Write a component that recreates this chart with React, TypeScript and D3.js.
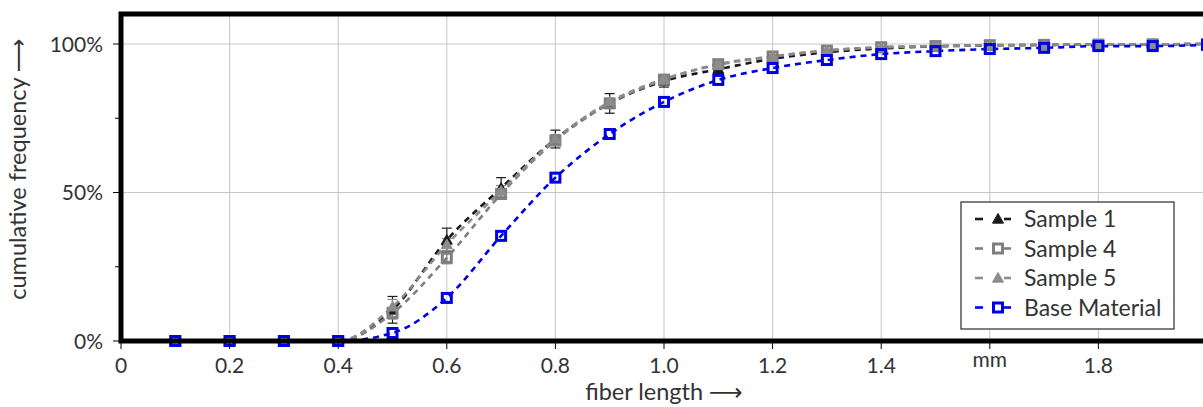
import React from 'react';
import * as d3 from 'd3';

const fiberLength = [0.1, 0.2, 0.3, 0.4, 0.5, 0.6, 0.7, 0.8, 0.9, 1.0, 1.1, 1.2, 1.3, 1.4, 1.5, 1.6, 1.7, 1.8, 1.9, 2.0];

const sample1 = [0, 0, 0, 0, 0.105, 0.34, 0.515, 0.68, 0.80, 0.875, 0.915, 0.95, 0.972, 0.985, 0.992, 0.995, 0.997, 0.998, 0.999, 1.0];
const sample1Err = [0, 0, 0, 0, 0.045, 0.04, 0.035, 0.03, 0.033, 0.02, 0.015, 0.01, 0.006, 0.004, 0.003, 0.002, 0.002, 0.001, 0.001, 0.001];

const sample4 = [0, 0, 0, 0, 0.094, 0.28, 0.495, 0.675, 0.80, 0.88, 0.932, 0.958, 0.978, 0.989, 0.993, 0.996, 0.997, 0.998, 0.999, 1.0];
const sample4Err = [0, 0, 0, 0, 0.02, 0.02, 0.015, 0.015, 0.012, 0.01, 0.008, 0.006, 0.004, 0.003, 0.002, 0.002, 0.001, 0.001, 0.001, 0.001];

const sample5 = [0, 0, 0, 0, 0.115, 0.325, 0.505, 0.68, 0.805, 0.882, 0.93, 0.958, 0.978, 0.989, 0.993, 0.996, 0.997, 0.998, 0.999, 1.0];
const sample5Err = [0, 0, 0, 0, 0.025, 0.02, 0.018, 0.015, 0.012, 0.01, 0.008, 0.006, 0.004, 0.003, 0.002, 0.002, 0.001, 0.001, 0.001, 0.001];

const baseMaterial = [0, 0, 0, 0, 0.027, 0.145, 0.354, 0.55, 0.697, 0.805, 0.879, 0.919, 0.946, 0.966, 0.976, 0.983, 0.987, 0.993, 0.993, 0.997];

// 1.6 is labelled with the unit instead of a number; 2.0 falls off the right edge
const xTicks = [0, 0.2, 0.4, 0.6, 0.8, 1.0, 1.2, 1.4, 1.6, 1.8, 2.0];
const xTickLabels = ['0', '0.2', '0.4', '0.6', '0.8', '1.0', '1.2', '1.4', 'mm', '1.8', ''];
const yTicks = [0, 0.5, 1.0];
const yMinorTicks = [0.25, 0.75];

type Series = {
  name: string;
  values: number[];
  errors: number[] | null;
  color: string;
  marker: 'triangle' | 'square';
};

const series: Series[] = [
  { name: 'Sample 1', values: sample1, errors: sample1Err, color: '#1a1a1a', marker: 'triangle' },
  { name: 'Sample 4', values: sample4, errors: sample4Err, color: '#7f7f7f', marker: 'square' },
  { name: 'Sample 5', values: sample5, errors: sample5Err, color: '#8c8c8c', marker: 'triangle' },
  { name: 'Base Material', values: baseMaterial, errors: null, color: '#0000e6', marker: 'square' },
];

const W = 1203;
const H = 407;
const font = 'Lato, "DejaVu Sans", sans-serif';
const textColor = '#333';

const Marker = ({ x, y, s }: { x: number; y: number; s: Series }) => {
  if (s.marker === 'triangle') {
    const r = 5.5;
    return (
      <path
        d={`M${x},${y - r}L${x + r},${y + r * 0.75}L${x - r},${y + r * 0.75}Z`}
        fill={s.color}
        stroke={s.color}
        strokeWidth={1}
      />
    );
  }
  return (
    <rect x={x - 4.5} y={y - 4.5} width={9} height={9} fill="none" stroke={s.color} strokeWidth={3} />
  );
};

const App = () => {
  const x = d3.scaleLinear().domain([0, 2]).range([121, 1207]);
  const y = d3.scaleLinear().domain([0, 1]).range([341, 44]);
  const plotTop = 14;
  const plotBottom = 341;

  const line = d3
    .line<number>()
    .x((_, i) => x(fiberLength[i]))
    .y((d) => y(d))
    .curve(d3.curveMonotoneX);

  const legendX = 961;
  const legendY = 202;
  const rowH = 29.5;

  return (
    <svg
      width={W}
      height={H}
      style={{ position: 'absolute', left: 0, top: 0, background: '#fff' }}
      fontFamily={font}
    >
      {/* grid */}
      <g stroke="#c6c6c6" strokeWidth={1}>
        {xTicks.filter((t) => t > 0).map((t) => (
          <line key={t} x1={x(t)} x2={x(t)} y1={plotTop} y2={plotBottom} />
        ))}
        {yTicks.filter((t) => t > 0).map((t) => (
          <line key={t} x1={x(0)} x2={W} y1={y(t)} y2={y(t)} />
        ))}
      </g>

      {/* lines */}
      {series.map((s) => (
        <path
          key={s.name}
          d={line(s.values) || ''}
          fill="none"
          stroke={s.color}
          strokeWidth={2.6}
          strokeDasharray="6,5"
        />
      ))}

      {/* error bars */}
      {series.map((s) =>
        s.errors ? (
          <g key={s.name} stroke={s.color} strokeWidth={1.2}>
            {s.values.map((v, i) => {
              const e = s.errors![i];
              if (e <= 0) return null;
              const cx = x(fiberLength[i]);
              return (
                <g key={i}>
                  <line x1={cx} x2={cx} y1={y(v + e)} y2={y(v - e)} />
                  <line x1={cx - 5} x2={cx + 5} y1={y(v + e)} y2={y(v + e)} />
                  <line x1={cx - 5} x2={cx + 5} y1={y(v - e)} y2={y(v - e)} />
                </g>
              );
            })}
          </g>
        ) : null
      )}

      {/* markers */}
      {series.map((s) => (
        <g key={s.name}>
          {s.values.map((v, i) => (
            <Marker key={i} x={x(fiberLength[i])} y={y(v)} s={s} />
          ))}
        </g>
      ))}

      {/* frame */}
      <path
        d={`M${W + 10},${plotTop} L${x(0)},${plotTop} L${x(0)},${plotBottom} L${W + 10},${plotBottom}`}
        fill="none"
        stroke="#000"
        strokeWidth={5}
      />

      {/* x ticks */}
      <g>
        {xTicks.map((t, i) => (
          <g key={t}>
            <line x1={x(t)} x2={x(t)} y1={plotBottom} y2={plotBottom + 8} stroke="#000" strokeWidth={1} />
            <text
              x={x(t)}
              y={xTickLabels[i] === 'mm' ? 367 : 373}
              textAnchor="middle"
              fontSize={21}
              fill={textColor}
            >
              {xTickLabels[i]}
            </text>
          </g>
        ))}
      </g>

      {/* y ticks */}
      <g>
        {yTicks.map((t) => (
          <g key={t}>
            <line x1={x(0) - 8} x2={x(0)} y1={y(t)} y2={y(t)} stroke="#000" strokeWidth={1} />
            <text x={103} y={y(t)} dy="0.36em" textAnchor="end" fontSize={21} fill={textColor}>
              {d3.format('.0%')(t)}
            </text>
          </g>
        ))}
        {yMinorTicks.map((t) => (
          <line key={t} x1={x(0) - 6} x2={x(0)} y1={y(t)} y2={y(t)} stroke="#000" strokeWidth={1} />
        ))}
      </g>

      {/* axis labels */}
      <text
        transform={`translate(26, 169) rotate(-90)`}
        textAnchor="middle"
        fontSize={23.5}
        fill={textColor}
      >
        cumulative frequency ⟶
      </text>
      <text x={664} y={400} textAnchor="middle" fontSize={23.5} fill={textColor}>
        fiber length ⟶
      </text>

      {/* legend */}
      <g>
        <rect
          x={legendX}
          y={legendY}
          width={213}
          height={127}
          fill="#fff"
          stroke="#2a2a2a"
          strokeWidth={1.2}
        />
        {series.map((s, i) => {
          const cy = legendY + 17 + i * rowH;
          const mx = legendX + 37;
          return (
            <g key={s.name}>
              <line x1={legendX + 14} x2={legendX + 22} y1={cy} y2={cy} stroke={s.color} strokeWidth={2.6} />
              <line x1={legendX + 43} x2={legendX + 50} y1={cy} y2={cy} stroke={s.color} strokeWidth={2.6} />
              <Marker x={mx} y={cy} s={s} />
              <text x={legendX + 63} y={cy} dy="0.36em" fontSize={23} fill={textColor}>
                {s.name}
              </text>
            </g>
          );
        })}
      </g>
    </svg>
  );
};

export default App;
